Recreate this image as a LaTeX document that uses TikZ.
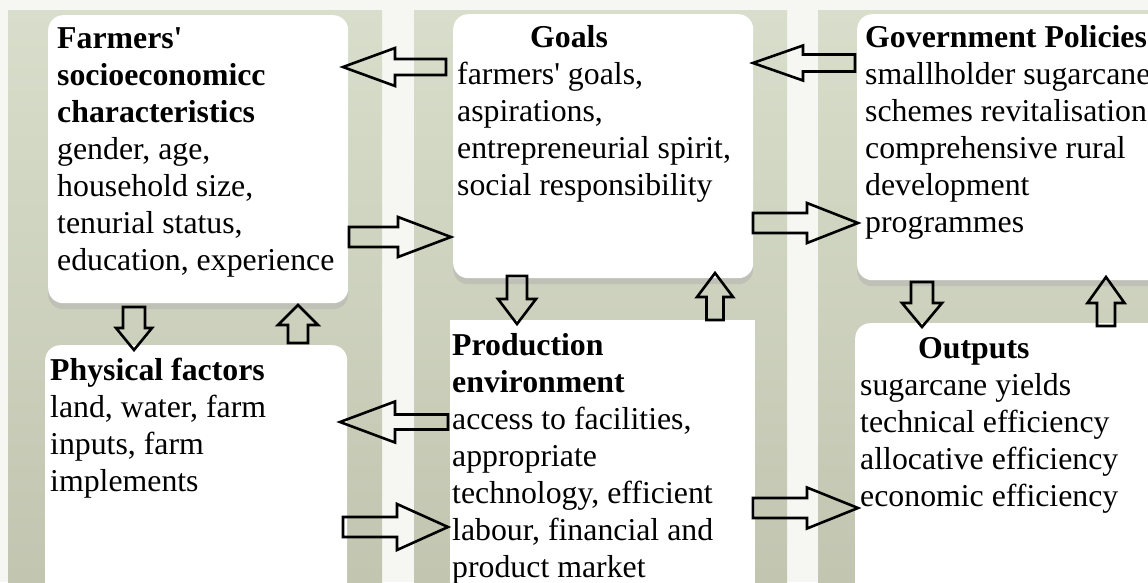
\documentclass[tikz,border=0pt]{standalone}
\usepackage{fontspec}
\setmainfont{Liberation Serif}[Ligatures=TeXOff]
\usetikzlibrary{calc,shadows}
\definecolor{bgtop}{RGB}{216,222,203}
\definecolor{bgbot}{RGB}{194,197,176}
\definecolor{stripe}{RGB}{246,247,242}
\tikzset{
  bgcol/.style={top color=bgtop, bottom color=bgbot, draw=none},
  box/.style={draw=none, fill=white, rounded corners=15pt, anchor=north west, inner sep=0pt,
     drop shadow={shadow xshift=0pt, shadow yshift=-6pt, fill=black!30, opacity=0.5}},
  sqbox/.style={draw=none, fill=white, anchor=north west, inner sep=0pt},
  txt/.style={anchor=north west, inner sep=0pt, align=left, font=\fontsize{31.8}{37}\selectfont},
  blk/.style={draw=black, line width=2.6pt, line join=miter, fill=none}
}
\newcommand\blockarrow[5]{% #1 tail, #2 tip, #3 shaft half, #4 head half, #5 head length
  \coordinate (bah) at ($(#2)!#5!(#1)$);
  \draw[blk] ($(#1)!#3!90:(#2)$) -- ($(bah)!#3!90:(#2)$) -- ($(bah)!#4!90:(#2)$) -- (#2)
     -- ($(bah)!#4!-90:(#2)$) -- ($(bah)!#3!-90:(#2)$) -- ($(#1)!#3!-90:(#2)$) -- cycle;}
\begin{document}
\begin{tikzpicture}[x=1pt,y=-1pt]
\useasboundingbox (0,0) rectangle (1148,582);
\clip (0,0) rectangle (1148,582);
\fill[stripe] (0,0) rectangle (1148,582);
% background columns
\shade[bgcol] (8,10) rectangle (382,582);
\shade[bgcol] (414,10) rectangle (787,582);
\shade[bgcol] (818,10) rectangle (1160,582);
% boxes
\node[box, minimum width=300pt, minimum height=288pt] (farm) at (48,15) {};
\node[box, minimum width=300pt, minimum height=264pt] (goals) at (453,14) {};
\node[box, minimum width=310pt, minimum height=266pt] (gov) at (857,14) {};
\node[box, minimum width=302pt, minimum height=255pt] (phys) at (45,345) {};
\node[sqbox, minimum width=305pt, minimum height=280pt] (prod) at (450,320) {};
\node[box, minimum width=310pt, minimum height=280pt] (out) at (855,323) {};
% texts
\node[txt] (farmT) at (57,22.1) {\strut\textbf{Farmers'}\\\textbf{socioeconomicc}\\\textbf{characteristics}\\gender, age,\\household size,\\tenurial status,\\education, experience};
\node[txt] (goalsT) at (457,21.1) {\strut\hspace*{73pt}\textbf{Goals}\\farmers' goals,\\aspirations,\\entrepreneurial spirit,\\social responsibility};
\node[txt] (govT) at (865,21.1) {\strut\textbf{Government Policies}\\smallholder sugarcane\\schemes revitalisation\\comprehensive rural\\development\\programmes};
\node[txt] (physT) at (50,354.1) {\strut\textbf{Physical factors}\\land, water, farm\\inputs, farm\\implements};
\node[txt] (prodT) at (452,329.1) {\strut\textbf{Production}\\\textbf{environment}\\access to facilities,\\appropriate\\technology, efficient\\labour, financial and\\product market};
\node[txt] (outT) at (860,332.1) {\strut\hspace*{58pt}\textbf{Outputs}\\sugarcane yields\\technical efficiency\\allocative efficiency\\economic efficiency};
% arrow end points
\coordinate (a1s) at (446,67);  \coordinate (a1t) at (343,67);
\coordinate (a2s) at (349,237); \coordinate (a2t) at (451,237);
\coordinate (a3s) at (855,63);  \coordinate (a3t) at (753,63);
\coordinate (a4s) at (753,223); \coordinate (a4t) at (858,223);
\coordinate (a5s) at (134,307); \coordinate (a5t) at (134,350);
\coordinate (a6s) at (298,343); \coordinate (a6t) at (298,305);
\coordinate (a7s) at (448,422); \coordinate (a7t) at (340,422);
\coordinate (a8s) at (343,527); \coordinate (a8t) at (448,527);
\coordinate (a9s) at (517,276); \coordinate (a9t) at (517,324);
\coordinate (a10s) at (715,320); \coordinate (a10t) at (715,273);
\coordinate (a11s) at (753,508); \coordinate (a11t) at (858,508);
\coordinate (a12s) at (922,282); \coordinate (a12t) at (922,327);
\coordinate (a13s) at (1106,326); \coordinate (a13t) at (1106,277);
% arrows
\blockarrow{a1s}{a1t}{8pt}{19pt}{52pt}
\blockarrow{a2s}{a2t}{10pt}{20pt}{53pt}
\blockarrow{a3s}{a3t}{8.5pt}{17.5pt}{50pt}
\blockarrow{a4s}{a4t}{10pt}{20pt}{51pt}
\blockarrow{a5s}{a5t}{11pt}{18pt}{22pt}
\blockarrow{a6s}{a6t}{10pt}{20pt}{20pt}
\blockarrow{a7s}{a7t}{7.5pt}{20.5pt}{55pt}
\blockarrow{a8s}{a8t}{10pt}{23pt}{51pt}
\blockarrow{a9s}{a9t}{10pt}{19pt}{25pt}
\blockarrow{a10s}{a10t}{8.5pt}{18pt}{24pt}
\blockarrow{a11s}{a11t}{10pt}{20.5pt}{51pt}
\blockarrow{a12s}{a12t}{11pt}{20pt}{24pt}
\blockarrow{a13s}{a13t}{9pt}{18.5pt}{26pt}
\end{tikzpicture}
\end{document}
